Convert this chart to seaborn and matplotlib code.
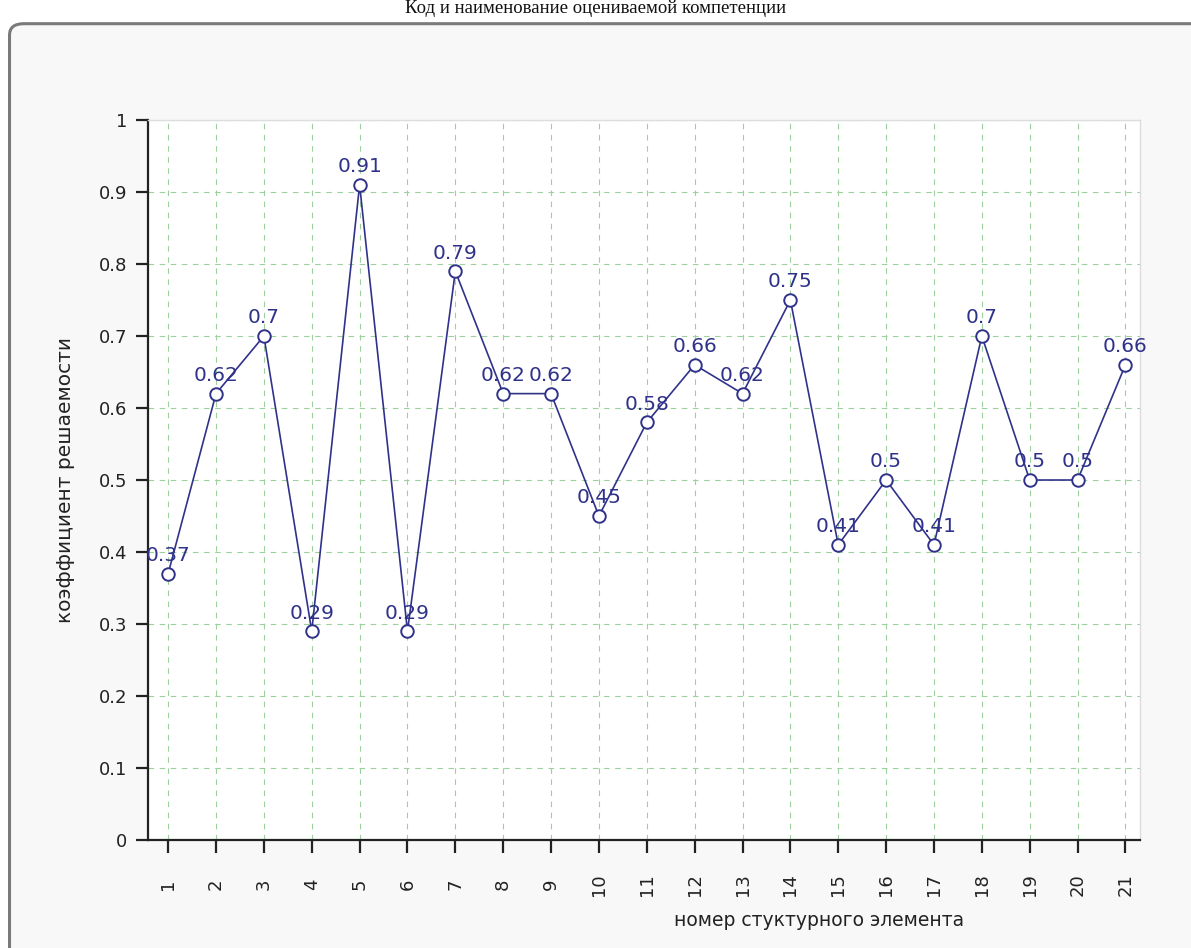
import matplotlib
matplotlib.use('Agg')
import matplotlib.pyplot as plt
import seaborn as sns
import pandas as pd
from matplotlib.patches import FancyBboxPatch

# data
elements = list(range(1, 22))
coefficients = [0.37, 0.62, 0.7, 0.29, 0.91, 0.29, 0.79, 0.62, 0.62, 0.45, 0.58,
                0.66, 0.62, 0.75, 0.41, 0.5, 0.41, 0.7, 0.5, 0.5, 0.66]
y_ticks = [0, 0.1, 0.2, 0.3, 0.4, 0.5, 0.6, 0.7, 0.8, 0.9, 1]

title = 'Код и наименование оцениваемой компетенции'
x_label = 'номер стуктурного элемента'
y_label = 'коэффициент решаемости'

df = pd.DataFrame({'element': elements, 'coef': coefficients})

sns.set_style('white')
plt.rcParams['font.family'] = ['DejaVu Sans']

line_color = '#30328a'
grid_color = '#9cd09c'

fig = plt.figure(figsize=(11.91, 9.48), dpi=100)
fig.patch.set_facecolor('white')

# rounded grey panel behind the chart
panel = FancyBboxPatch((0.008, -0.05), 1.05, 1.025, transform=fig.transFigure,
                       boxstyle='round,pad=0,rounding_size=0.012',
                       facecolor='#f8f8f8', edgecolor='#7a7a7a', linewidth=2.2,
                       zorder=-5)
fig.patches.append(panel)

fig.text(0.5, 0.9995, title, ha='center', va='top', fontsize=13.5,
         family=['Liberation Serif', 'DejaVu Serif'], color='#111111')

ax = fig.add_axes([0.1243, 0.1139, 0.8327, 0.7595])
ax.set_zorder(2)
ax.set_facecolor('white')

sns.lineplot(data=df, x='element', y='coef', ax=ax, color=line_color,
             linewidth=1.2, marker='o', markersize=9, markerfacecolor='white',
             markeredgecolor=line_color, markeredgewidth=1.4, zorder=3)

for x, y in zip(elements, coefficients):
    ax.annotate(f'{y:g}', (x, y), xytext=(0, 13), textcoords='offset points',
                ha='center', va='center', fontsize=14.5, color=line_color,
                zorder=4)

ax.set_xlim(0.58, 21.3)
ax.set_ylim(0, 1)
ax.set_xticks(elements)
ax.set_xticklabels([str(e) for e in elements], rotation=90, fontsize=13,
                   va='center')
ax.set_yticks(y_ticks)
ax.set_yticklabels([f'{t:g}' for t in y_ticks], fontsize=13)

ax.grid(True, color=grid_color, linestyle=(0, (5, 5)), linewidth=0.8)
ax.set_axisbelow(True)

for side in ['top', 'right']:
    ax.spines[side].set_color('#dddddd')
    ax.spines[side].set_linewidth(1.0)
for side in ['left', 'bottom']:
    ax.spines[side].set_color('#222222')
    ax.spines[side].set_linewidth(1.6)

ax.tick_params(axis='both', direction='out', length=9, width=1.6,
               color='#222222', labelcolor='#222222', pad=6, left=True,
               bottom=True)
ax.tick_params(axis='x', pad=23)

ax.set_xlabel(x_label, fontsize=13.5, color='#222222')
ax.xaxis.set_label_coords(0.677, -0.098)
ax.set_ylabel(y_label, fontsize=14.5, color='#222222')
ax.yaxis.set_label_coords(-0.074, 0.5)

fig.savefig('out.png', dpi=100)
